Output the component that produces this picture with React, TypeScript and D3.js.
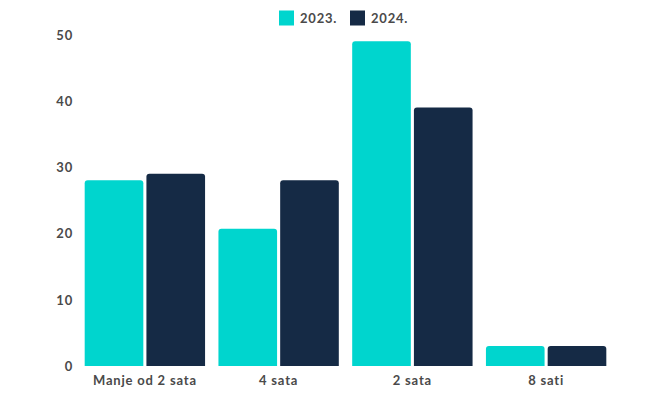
import React from "react";
import * as d3 from "d3";

const categories = ["Manje od 2 sata", "4 sata", "2 sata", "8 sati"];
const seriesNames = ["2023.", "2024."];
const values2023 = [28, 20.7, 49, 3];
const values2024 = [29, 28, 39, 3];
const yTicks = [0, 10, 20, 30, 40, 50];
const colors = ["#00D5CE", "#152A45"];

const W = 661;
const H = 394;
const FONT = "Lato, 'Open Sans', sans-serif";
const TEXT_COLOR = "#4a4a4a";
const LS = 0.8;

function topRoundedRect(x: number, y: number, w: number, h: number, r: number) {
  const rr = Math.min(r, h / 2, w / 2);
  return `M${x},${y + h}V${y + rr}Q${x},${y} ${x + rr},${y}H${x + w - rr}Q${x + w},${y} ${x + w},${y + rr}V${y + h}Z`;
}

export default function App() {
  const x0 = d3.scaleBand<string>().domain(categories).range([78, 613]).paddingInner(0.1).paddingOuter(0.05);
  const x1 = d3.scaleBand<string>().domain(seriesNames).range([0, x0.bandwidth()]).paddingInner(0.05);
  const y = d3.scaleLinear().domain([0, 50]).range([366, 34.5]);
  const series = [values2023, values2024];

  return (
    <svg width={W} height={H} style={{ position: "absolute", left: 0, top: 0, background: "#fff" }}>
      {/* legend */}
      {seriesNames.map((s, i) => {
        const lx = 279 + i * 71;
        return (
          <g key={s}>
            <rect x={lx} y={10.5} width={15} height={15} fill={colors[i]} />
            <text x={lx + 21} y={18} dominantBaseline="central" fontFamily={FONT} fontWeight={700} fontSize={13} letterSpacing={LS} fill={TEXT_COLOR}>
              {s}
            </text>
          </g>
        );
      })}
      {/* y axis labels */}
      {yTicks.map((t) => (
        <text key={t} x={73} y={y(t)} textAnchor="end" dominantBaseline="central" fontFamily={FONT} fontWeight={700} fontSize={13} letterSpacing={LS} fill={TEXT_COLOR}>
          {t}
        </text>
      ))}
      {/* bars */}
      {categories.map((c, ci) => (
        <g key={c} transform={`translate(${x0(c)},0)`}>
          {seriesNames.map((s, si) => {
            const v = series[si][ci];
            const bx = x1(s)!;
            const by = y(v);
            return <path key={s} d={topRoundedRect(bx, by, x1.bandwidth(), y(0) - by, 3)} fill={colors[si]} />;
          })}
        </g>
      ))}
      {/* x labels */}
      {categories.map((c) => (
        <text key={c} x={x0(c)! + x0.bandwidth() / 2} y={379.5} textAnchor="middle" dominantBaseline="central" fontFamily={FONT} fontWeight={700} fontSize={13} letterSpacing={LS} fill={TEXT_COLOR}>
          {c}
        </text>
      ))}
    </svg>
  );
}
